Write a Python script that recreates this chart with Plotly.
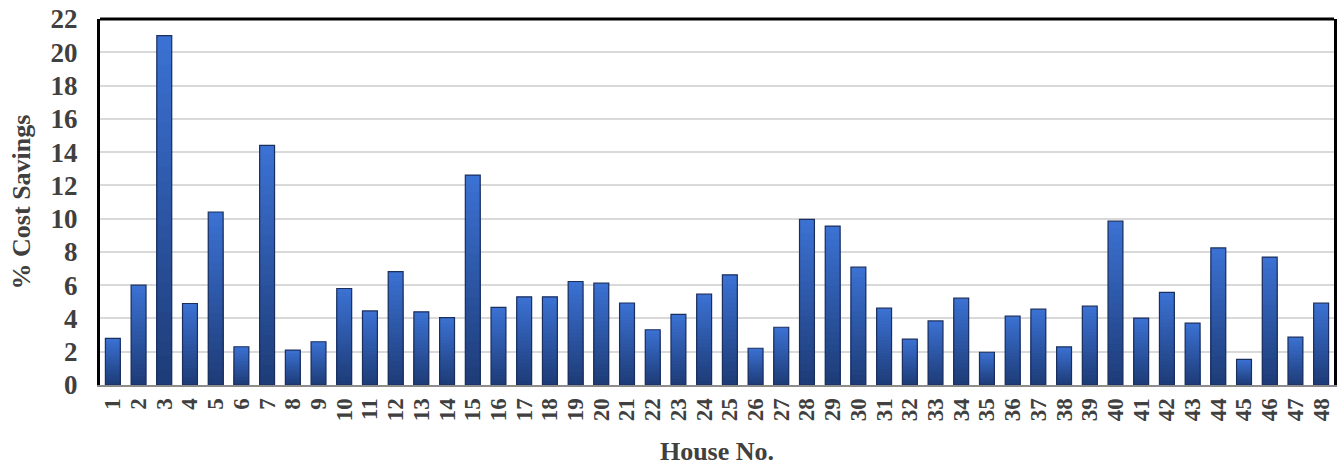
import plotly.graph_objects as go

houses = [str(i) for i in range(1, 49)]
savings = [2.8, 6.0, 21.0, 4.9, 10.4, 2.3, 14.4, 2.1, 2.6, 5.8,
           4.45, 6.82, 4.4, 4.05, 12.62, 4.67, 5.3, 5.3, 6.22, 6.12,
           4.93, 3.32, 4.25, 5.46, 6.62, 2.21, 3.47, 9.95, 9.55, 7.08,
           4.62, 2.76, 3.85, 5.22, 1.97, 4.14, 4.56, 2.29, 4.74, 9.85,
           4.02, 5.57, 3.72, 8.24, 1.54, 7.69, 2.88, 4.92]

y_ticks = list(range(0, 23, 2))

TOP = (59, 113, 210)
BOT = (30, 60, 120)
N_LAYERS = 24

fig = go.Figure()
for k in range(N_LAYERS):
    t = k / (N_LAYERS - 1)
    c = tuple(round(TOP[i] + (BOT[i] - TOP[i]) * t) for i in range(3))
    frac = 1 - k / N_LAYERS
    fig.add_trace(go.Bar(
        x=houses, y=[v * frac for v in savings],
        marker=dict(color="rgb(%d,%d,%d)" % c, line=dict(width=0)),
        hoverinfo="skip", showlegend=False,
    ))
fig.add_trace(go.Bar(
    x=houses, y=savings,
    marker=dict(color="rgba(0,0,0,0)", line=dict(color="#1b2f5e", width=1.2)),
    showlegend=False, name="% Cost Savings",
))

font_family = "Liberation Serif"
fig.update_layout(
    width=1343, height=466,
    margin=dict(l=100, r=9, t=19, b=81, autoexpand=False),
    barmode="overlay", bargap=0.42,
    plot_bgcolor="white", paper_bgcolor="white",
    font=dict(family=font_family, color="#404040"),
    xaxis=dict(
        type="category", tickangle=-90, automargin=False,
        tickmode="array", tickvals=houses, ticktext=houses,
        tickfont=dict(size=23, family=font_family, color="#404040", weight="bold"),
        showline=True, linecolor="#8c8c8c", linewidth=2,
        ticks="", showgrid=False, ticklabelstandoff=2,
        title=dict(text="<b>House No.</b>", font=dict(size=26, family=font_family, color="#404040"), standoff=22),
    ),
    yaxis=dict(
        range=[0, 22], tickvals=y_ticks, ticktext=[str(v) for v in y_ticks],
        automargin=False,
        tickfont=dict(size=27, family=font_family, color="#404040", weight="bold"),
        showgrid=True, gridcolor="#d9d9d9", gridwidth=2,
        showline=True, linecolor="black", linewidth=3, mirror=True,
        ticks="", zeroline=False, ticklabelstandoff=14,
        title=dict(text="<b>% Cost Savings</b>", font=dict(size=26, family=font_family, color="#404040"), standoff=13),
    ),
    shapes=[dict(type="line", xref="paper", yref="paper", x0=0, x1=1, y0=1, y1=1,
                 line=dict(color="black", width=3))],
)

fig.write_html("out.html", config={"displayModeBar": False},
               post_script="document.body.style.margin='0';document.body.style.overflow='hidden';")
